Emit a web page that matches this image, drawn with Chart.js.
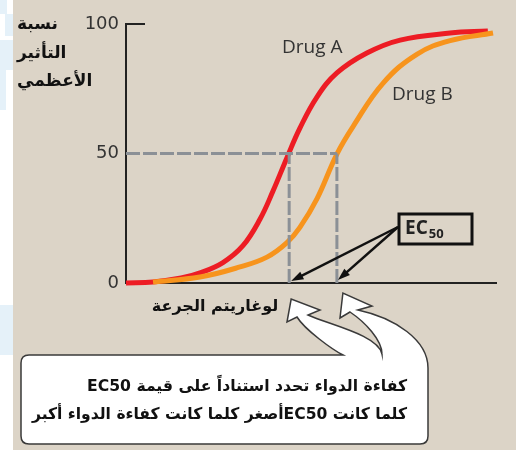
<!DOCTYPE html>
<html>
<head>
<meta charset="utf-8">
<script src="https://cdn.jsdelivr.net/npm/chart.js@4"></script>
<style>
  html, body { margin: 0; padding: 0; background: #fff; }
  canvas { display: block; }
</style>
</head>
<body>
<canvas id="chart" width="516" height="450"></canvas>
<script>
// dose-response curves, x = log dose (arbitrary units), y = % of max effect
const doseA   = [0, 7.3, 14.9, 20, 26.2, 31.6, 36.2, 39.7, 43.5, 47, 51.6, 57, 65.1, 74.1, 87.6, 97.8];
const effectA = [0, 0.4, 1.9, 3.9, 7.9, 14.4, 24.6, 35.4, 48.4, 59.8, 71.8, 81.1, 88.8, 93.8, 96.5, 97.3];
const doseB   = [7.3, 20, 30.8, 38.1, 43.5, 47, 51.6, 57, 61.4, 69.5, 78.6, 87.6, 99.2];
const effectB = [0.4, 2.3, 6.2, 10, 15.6, 21.5, 32.5, 49.8, 60.5, 77.2, 88.3, 93.6, 96.5];
const ec50A = 44.1;
const ec50B = 57.0;
const yTicks = [0, 50, 100];

const seriesNames = ['Drug A', 'Drug B'];
const yTitle = ['نسبة', 'التأثير', 'الأعظمي'];
const xTitle = 'لوغاريتم الجرعة';
const noteLines = [
  'كفاءة الدواء تحدد استناداً على قيمة EC50',
  'كلما كانت EC50أصغر كلما كانت كفاءة الدواء أكبر'
];

const BG = '#dcd4c7';
const RED = '#ed1c24';
const ORANGE = '#f7941d';
const GUIDE = '#8b9096';
const AR_FONT = '"DejaVu Sans", sans-serif';

const pts = (xs, ys) => xs.map((x, i) => ({ x, y: ys[i] }));

function blackArrow(ctx, x1, y1, x2, y2, head) {
  const a = Math.atan2(y2 - y1, x2 - x1);
  ctx.beginPath();
  ctx.moveTo(x1, y1);
  ctx.lineTo(x2 - head * 0.8 * Math.cos(a), y2 - head * 0.8 * Math.sin(a));
  ctx.stroke();
  ctx.beginPath();
  ctx.moveTo(x2, y2);
  ctx.lineTo(x2 - head * Math.cos(a - 0.33), y2 - head * Math.sin(a - 0.33));
  ctx.lineTo(x2 - head * Math.cos(a + 0.33), y2 - head * Math.sin(a + 0.33));
  ctx.closePath();
  ctx.fill();
}

// right-aligned rtl text squeezed to a target width
function fitText(ctx, txt, right, y, width) {
  const w = ctx.measureText(txt).width;
  ctx.save();
  ctx.translate(right, y);
  ctx.scale(Math.min(1.1, width / w), 1);
  ctx.fillText(txt, 0, 0);
  ctx.restore();
}

const deco = {
  id: 'deco',
  beforeDraw(chart) {
    const ctx = chart.ctx;
    ctx.save();
    ctx.fillStyle = '#ffffff';
    ctx.fillRect(0, 0, 13, 450);
    ctx.fillStyle = '#e5f1f9';
    [[0, 0, 7, 14], [5, 14, 8, 22], [0, 40, 13, 30], [0, 70, 6, 40], [0, 305, 13, 50]]
      .forEach(r => ctx.fillRect(r[0], r[1], r[2], r[3]));
    ctx.fillStyle = BG;
    ctx.fillRect(13, 0, 503, 450);
    ctx.restore();
  },
  afterDraw(chart) {
    const ctx = chart.ctx;
    const xs = chart.scales.x, ys = chart.scales.y;
    const x0 = xs.left, y0 = ys.bottom;
    const xA = xs.getPixelForValue(ec50A), xB = xs.getPixelForValue(ec50B);
    ctx.save();

    // tick mark at 100
    ctx.strokeStyle = '#222';
    ctx.lineWidth = 2;
    ctx.beginPath();
    ctx.moveTo(x0, ys.getPixelForValue(100));
    ctx.lineTo(x0 + 19, ys.getPixelForValue(100));
    ctx.stroke();

    // series labels
    ctx.fillStyle = '#333';
    ctx.font = '19px "Open Sans", sans-serif';
    ctx.textBaseline = 'middle';
    ctx.textAlign = 'left';
    ctx.fillText(seriesNames[0], 282, 48);
    ctx.fillText(seriesNames[1], 392, 95);

    // axis titles
    ctx.fillStyle = '#111';
    ctx.direction = 'rtl';
    ctx.font = 'bold 17px ' + AR_FONT;
    ctx.textAlign = 'left';
    [25, 54, 82].forEach((y, i) => ctx.fillText(yTitle[i], 17, y));
    ctx.font = 'bold 16px ' + AR_FONT;
    ctx.textAlign = 'center';
    ctx.fillText(xTitle, 215, 307);
    ctx.direction = 'ltr';

    // EC50 box + arrows
    ctx.strokeStyle = '#111';
    ctx.lineWidth = 3;
    ctx.strokeRect(399, 214, 73, 30);
    ctx.fillStyle = '#222';
    ctx.textAlign = 'left';
    ctx.font = 'bold 19px "Open Sans", sans-serif';
    ctx.fillText('EC', 405, 229);
    const wEC = ctx.measureText('EC').width;
    ctx.font = 'bold 13px "Open Sans", sans-serif';
    ctx.fillText('50', 405 + wEC + 1, 234);
    ctx.lineWidth = 2.5;
    ctx.fillStyle = '#111';
    blackArrow(ctx, 398, 227, xA + 2, y0 - 2, 13);
    blackArrow(ctx, 398, 227, xB + 1, y0 - 3, 13);

    // callout with hollow arrows
    const L = 21, T = 355, R = 428, B = 444, r = 8;
    ctx.beginPath();
    ctx.moveTo(L + r, T);
    ctx.lineTo(343, T);
    ctx.bezierCurveTo(333, 350, 305, 330, 297, 317);
    ctx.lineTo(287, 322);
    ctx.lineTo(xA + 2, 299);
    ctx.lineTo(320, 310);
    ctx.lineTo(308, 315);
    ctx.bezierCurveTo(330, 325, 378, 335, 382, 354);
    ctx.bezierCurveTo(382, 340, 365, 322, 350, 312);
    ctx.lineTo(340, 318);
    ctx.lineTo(xB + 6, 293);
    ctx.lineTo(372, 306);
    ctx.lineTo(358, 310);
    ctx.bezierCurveTo(395, 318, 428, 340, R, 368);
    ctx.lineTo(R, B - r);
    ctx.quadraticCurveTo(R, B, R - r, B);
    ctx.lineTo(L + r, B);
    ctx.quadraticCurveTo(L, B, L, B - r);
    ctx.lineTo(L, T + r);
    ctx.quadraticCurveTo(L, T, L + r, T);
    ctx.closePath();
    ctx.fillStyle = '#ffffff';
    ctx.fill();
    ctx.strokeStyle = '#3a3a3a';
    ctx.lineWidth = 1.5;
    ctx.stroke();

    ctx.fillStyle = '#111';
    ctx.direction = 'rtl';
    ctx.textAlign = 'right';
    ctx.font = 'bold 16px ' + AR_FONT;
    fitText(ctx, noteLines[0], 407, 387, 320);
    fitText(ctx, noteLines[1], 407, 415, 375);
    ctx.restore();
  }
};

new Chart(document.getElementById('chart'), {
  type: 'line',
  data: {
    datasets: [
      { label: 'EC50 guide', data: [{ x: 0, y: 50 }, { x: ec50B, y: 50 }], borderColor: GUIDE, borderWidth: 3, borderDash: [14, 3], tension: 0, order: 1 },
      { label: 'EC50 A', data: [{ x: ec50A, y: 0 }, { x: ec50A, y: 50 }], borderColor: GUIDE, borderWidth: 3, borderDash: [14, 3], tension: 0, order: 1 },
      { label: 'EC50 B', data: [{ x: ec50B, y: 0 }, { x: ec50B, y: 50 }], borderColor: GUIDE, borderWidth: 3, borderDash: [14, 3], tension: 0, order: 1 },
      { label: seriesNames[1], data: pts(doseB, effectB), borderColor: ORANGE, borderWidth: 5, tension: 0.4, order: 2 },
      { label: seriesNames[0], data: pts(doseA, effectA), borderColor: RED, borderWidth: 5, tension: 0.4, order: 3 }
    ]
  },
  options: {
    responsive: false,
    animation: false,
    events: [],
    layout: { padding: { top: 24, right: 20, left: 0, bottom: 0 } },
    elements: { point: { radius: 0 }, line: { borderCapStyle: 'butt' } },
    datasets: { line: { clip: false, fill: false } },
    plugins: { legend: { display: false }, tooltip: { enabled: false } },
    scales: {
      x: {
        type: 'linear', min: 0, max: 100,
        ticks: { display: false },
        grid: { display: false, drawTicks: false },
        border: { display: true, color: '#222', width: 2 },
        afterFit: s => { s.height = 167; }
      },
      y: {
        min: 0, max: 100,
        afterBuildTicks: s => { s.ticks = yTicks.map(v => ({ value: v })); },
        ticks: { color: '#333', padding: 7, font: { family: '"DejaVu Sans"', size: 18 } },
        grid: { display: false, drawTicks: false },
        border: { display: true, color: '#222', width: 2 },
        afterFit: s => { s.width = 126; }
      }
    }
  },
  plugins: [deco]
});
</script>
</body>
</html>
